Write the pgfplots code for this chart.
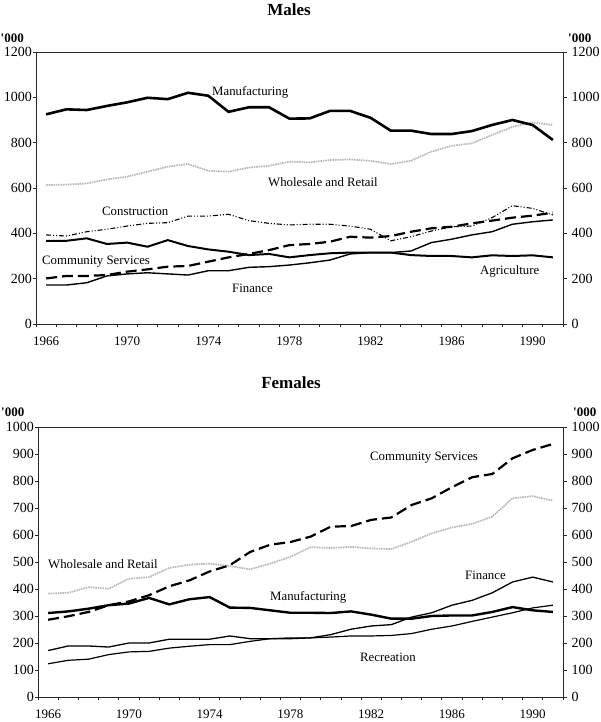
\documentclass[border=0pt]{standalone}
\usepackage{fontspec}
\setmainfont{Liberation Serif}
\usepackage{pgfplots}
\pgfplotsset{compat=1.18}

% Males, thousands
\pgfplotstableread{
year manuf wr    constr agri  comm  fin
1966 925   613   393    367   201   172
1967 947   615   388    367   212   172
1968 944   620   407    378   212   182
1969 962   638   418    353   216   212
1970 978   650   432    359   231   221
1971 998   672   444    341   241   226
1972 992   694   447    370   253   221
1973 1020  706   476    344   256   216
1974 1007  676   476    329   275   235
1975 936   672   484    319   294   235
1976 956   690   456    304   309   250
1977 956   698   444    309   326   253
1978 906   716   437    294   348   260
1979 907   713   440    304   353   270
1980 940   723   440    312   363   282
1981 940   726   432    315   385   309
1982 910   720   418    315   381   315
1983 853   706   367    315   388   315
1984 853   720   385    304   407   322
1985 838   760   410    300   422   359
1986 838   786   429    300   429   374
1987 851   797   432    294   444   393
1988 878   834   469    303   456   407
1989 900   870   522    300   469   440
1990 878   889   510    303   478   451
1991 812   878   481    294   491   459
}\males

% Females, thousands
\pgfplotstableread{
year manuf comm  wr   fin  recr
1966 311   286   383  172  123
1967 317   299   386  189  136
1968 327   315   407  189  140
1969 340   340   401  185  157
1970 346   354   438  200  167
1971 367   377   444  200  169
1972 343   410   478  214  181
1973 362   432   490  214  188
1974 370   465   494  214  194
1975 331   488   485  226  194
1976 330   537   473  216  206
1977 321   564   494  216  216
1978 312   574   519  216  219
1979 312   594   555  219  219
1980 311   631   552  231  222
1981 317   633   556  251  226
1982 305   656   550  263  226
1983 290   665   548  268  228
1984 290   711   575  296  235
1985 300   736   606  312  251
1986 302   777   628  340  263
1987 302   814   641  358  280
1988 315   826   668  386  296
1989 333   884   736  426  312
1990 321   915   744  444  330
1991 315   937   727  426  340
}\females

\pgfplotsset{
  panel/.style={
    scale only axis,
    xmin=1965.5, xmax=1991.5,
    axis line style={black!85, line width=0.9pt},
    tick style={black!85, line width=0.7pt},
    tick align=outside,
    major tick length=3.5pt,
    minor tick length=3.5pt,
    /pgf/number format/1000 sep={},
    /pgf/number format/assume math mode=true,
    ticklabel style={font=\fontsize{14}{14}\selectfont},
    xtick={1966,1970,...,1990},
    minor xtick={1965.5,1966.5,...,1991.5},
    xtick pos=left,
    major x tick style={draw=none},
    xticklabel style={font=\fontsize{13}{13}\selectfont, inner sep=0pt, anchor=center, yshift=-14pt},
  },
  leftside/.style={
    ytick pos=left,
    yticklabel style={anchor=east, inner sep=0pt, xshift=-0.5pt},
  },
  rightside/.style={
    axis y line*=right,
    axis x line=none,
    yticklabel style={anchor=west, inner sep=0pt, xshift=5pt},
  },
}

\begin{document}
\begin{tikzpicture}
\useasboundingbox (0pt,0pt) rectangle (600pt,722pt);

% ---------------- Males ----------------
\begin{axis}[panel, leftside,
    at={(36pt,398pt)}, anchor=south west,
    width=527pt, height=272pt,
    ymin=0, ymax=1200, ytick={0,200,...,1200}]
  \addplot[gray!55, line width=1.7pt, dash pattern=on 1.6pt off 0.8pt] table[x=year, y=wr] {\males};
  \addplot[black, line width=1.1pt, dash pattern=on 5pt off 2pt on 1pt off 2pt on 1pt off 2pt] table[x=year, y=constr] {\males};
  \addplot[black, line width=2pt] table[x=year, y=agri] {\males};
  \addplot[black, line width=1.4pt] table[x=year, y=fin] {\males};
  \addplot[black, line width=2.2pt, dash pattern=on 11pt off 5pt] table[x=year, y=comm] {\males};
  \addplot[black, line width=2.6pt] table[x=year, y=manuf] {\males};
\end{axis}
\begin{axis}[panel, rightside,
    at={(36pt,398pt)}, anchor=south west,
    width=527pt, height=272pt,
    ymin=0, ymax=1200, ytick={0,200,...,1200}]
\end{axis}

% ---------------- Females ----------------
\begin{axis}[panel, leftside,
    at={(38pt,25pt)}, anchor=south west,
    width=525pt, height=270pt,
    ymin=0, ymax=1000, ytick={0,100,...,1000}]
  \addplot[gray!55, line width=1.7pt, dash pattern=on 1.6pt off 0.8pt] table[x=year, y=wr] {\females};
  \addplot[black, line width=1.2pt] table[x=year, y=recr] {\females};
  \addplot[black, line width=1.3pt] table[x=year, y=fin] {\females};
  \addplot[black, line width=2.2pt, dash pattern=on 11pt off 5pt] table[x=year, y=comm] {\females};
  \addplot[black, line width=2.4pt] table[x=year, y=manuf] {\females};
\end{axis}
\begin{axis}[panel, rightside,
    at={(38pt,25pt)}, anchor=south west,
    width=525pt, height=270pt,
    ymin=0, ymax=1000, ytick={0,100,...,1000}]
\end{axis}

% titles and units
\node[font=\bfseries\fontsize{17}{17}\selectfont] at (289pt,712pt) {Males};
\node[font=\bfseries\fontsize{17}{17}\selectfont] at (291pt,339pt) {Females};
\begin{scope}[every node/.style={font=\bfseries\fontsize{13}{13}\selectfont, inner sep=0pt}]
  \node[anchor=west] at (0.5pt,684pt) {\textquotesingle000};
  \node[anchor=west] at (568pt,684pt) {\textquotesingle000};
  \node[anchor=west] at (1pt,310pt) {\textquotesingle000};
  \node[anchor=west] at (573pt,310pt) {\textquotesingle000};
\end{scope}

% series labels
\begin{scope}[every node/.style={font=\fontsize{12.8}{12.8}\selectfont, inner sep=0pt, anchor=west}]
  \node at (212pt,630pt) {Manufacturing};
  \node at (268pt,540pt) {Wholesale and Retail};
  \node at (102pt,511pt) {Construction};
  \node at (42pt,460pt) {Community Services};
  \node at (232pt,434pt) {Finance};
  \node at (480pt,451pt) {Agriculture};
  \node at (370pt,264pt) {Community Services};
  \node at (48pt,158pt) {Wholesale and Retail};
  \node at (270pt,125pt) {Manufacturing};
  \node at (465pt,147pt) {Finance};
  \node at (360pt,65pt) {Recreation};
\end{scope}
\end{tikzpicture}
\end{document}
